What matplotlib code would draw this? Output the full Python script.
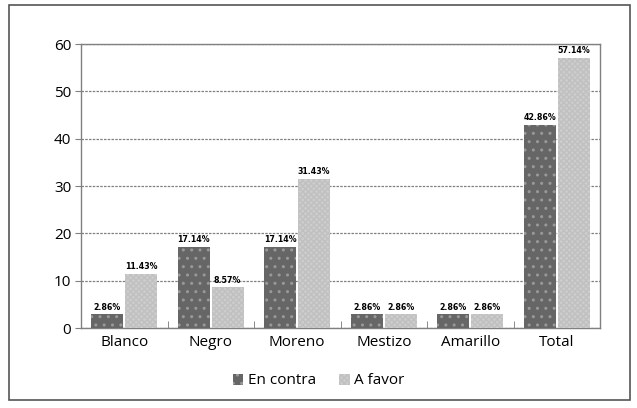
import matplotlib
matplotlib.use("Agg")
import matplotlib.pyplot as plt
import numpy as np
from matplotlib.patches import Rectangle

categories = ["Blanco", "Negro", "Moreno", "Mestizo", "Amarillo", "Total"]
en_contra = [2.86, 17.14, 17.14, 2.86, 2.86, 42.86]
a_favor = [11.43, 8.57, 31.43, 2.86, 2.86, 57.14]
series_names = ["En contra", "A favor"]
yticks = [0, 10, 20, 30, 40, 50, 60]

plt.rcParams['hatch.linewidth'] = 1.0
fig = plt.figure(figsize=(6.37, 4.08), dpi=100)
ax = fig.add_axes([81/637, 1-328/408, (600-81)/637, (328-44)/408])

x = np.arange(len(categories))
w = 0.37
off = 0.195
b1 = ax.bar(x - off, en_contra, w, color="#666666", edgecolor="#999999", hatch="..", linewidth=0, label=series_names[0], zorder=3)
b2 = ax.bar(x + off, a_favor, w, color="#cdcdcd", edgecolor="#c0c0c0", hatch="xxxxxx", linewidth=0, label=series_names[1], zorder=3)

for bars, vals in ((b1, en_contra), (b2, a_favor)):
    for r, v in zip(bars, vals):
        ax.text(r.get_x() + r.get_width()/2, v + 0.6, f"{v:.2f}%", ha="center", va="bottom",
                fontsize=6.3, fontweight="bold", family="DejaVu Sans", stretch="condensed", zorder=4)

ax.set_xlim(-0.5, len(categories) - 0.5)
ax.set_ylim(0, 60)
ax.set_yticks(yticks)
ax.set_yticklabels([str(t) for t in yticks], fontsize=11, family="Open Sans")
ax.yaxis.grid(True, linestyle=(0, (2, 1)), color="#808080", linewidth=0.9, zorder=0)
ax.set_xticks(x)
ax.set_xticklabels(categories, fontsize=11, family="Open Sans")
ax.tick_params(axis="x", length=0, pad=5)
ax.tick_params(axis="y", length=4, color="#808080", pad=3)
ax.set_xticks(np.arange(0.5, len(categories) - 0.5, 1), minor=True)
ax.tick_params(axis="x", which="minor", direction="in", length=5, color="#777777")
for s in ax.spines.values():
    s.set_linestyle((0, (2, 1)))
    s.set_color("#808080")
    s.set_linewidth(1.0)

fig.legend(handles=[b1, b2], labels=series_names, loc="center", bbox_to_anchor=(0.5, 1-381/408),
           ncol=2, frameon=False, prop={"family": "Open Sans", "size": 11},
           handlelength=0.7, handleheight=0.7, handletextpad=0.3, columnspacing=1.5)

fig.patches.append(Rectangle((9/637, 1-400/408), (630-9)/637, (400-5)/408, transform=fig.transFigure,
                             fill=False, edgecolor="#555555", linewidth=1.2))
fig.savefig("out.png", dpi=100)
